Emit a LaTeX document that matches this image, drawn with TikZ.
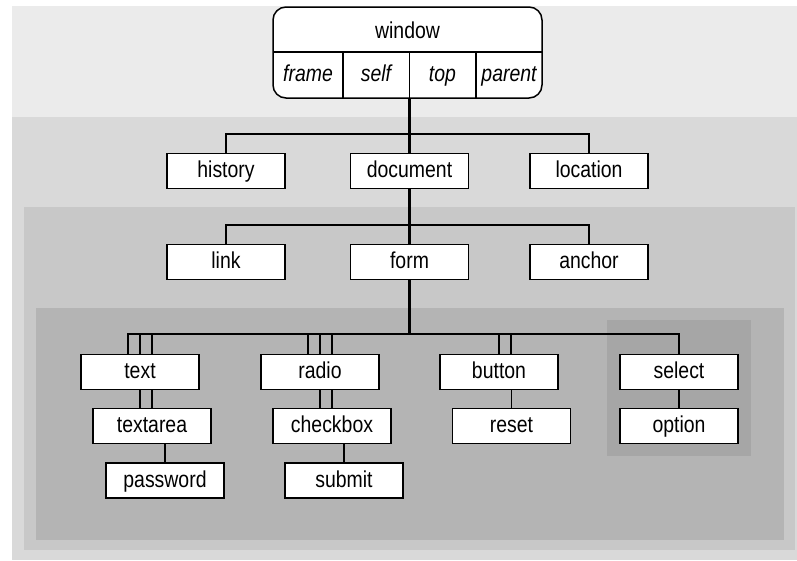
\documentclass[tikz,border=0pt]{standalone}
\usepackage{fontspec}
\setmainfont{Liberation Sans}[FakeStretch=0.845]
\begin{document}
\begin{tikzpicture}[x=1pt,y=-1pt,
  box/.style={draw=black, line width=1.5pt, fill=white, minimum width=118pt, minimum height=35pt, inner sep=0pt,
    font=\fontsize{23}{27}\selectfont, text height=16pt, text depth=3pt},
  lab/.style={inner sep=0pt, font=\fontsize{23}{27}\selectfont\itshape, text height=16pt, text depth=3pt},
  conn/.style={draw=black, line width=1.5pt},
  trunk/.style={draw=black, line width=2.6pt}]
\definecolor{bandA}{HTML}{EBEBEB}
\definecolor{bandB}{HTML}{D9D9D9}
\definecolor{bandC}{HTML}{C8C8C8}
\definecolor{bandD}{HTML}{B4B4B4}
\definecolor{bandE}{HTML}{A6A6A6}
\useasboundingbox (0,0) rectangle (797,560);
\fill[white] (0,0) rectangle (797,560);
\fill[bandA] (12,6) rectangle (797,117);
\fill[bandB] (12,117) rectangle (797,560);
\fill[bandC] (24,207) rectangle (795,550);
\fill[bandD] (36,308) rectangle (784,540);
\fill[bandE] (607,320) rectangle (751,456);

% window
\node[draw=black, line width=1.5pt, fill=white, rounded corners=13pt, minimum width=269pt, minimum height=91pt, inner sep=0pt] (win) at (407.5,52.5) {};
\coordinate (wl) at (273,52);
\coordinate (wr) at (542,52);
\draw[conn] (wl) -- (wr);
\coordinate (d1) at (343,52);
\coordinate (d2) at (409.5,52);
\coordinate (d3) at (476,52);
\draw[conn] (d1) -- (d1 |- win.south);
\draw[conn] (d2) -- (d2 |- win.south);
\draw[conn] (d3) -- (d3 |- win.south);
\node[lab, font=\fontsize{23}{27}\selectfont] (wt) at (407.5,31.5) {window};
\node[lab] (lframe) at (308,75) {frame};
\node[lab] (lself) at (376,75) {self};
\node[lab] (ltop) at (442.5,75) {top};
\node[lab] (lparent) at (509,75) {parent};

% level 1
\node[box] (history) at (226,171) {history};
\node[box] (document) at (409.5,171) {document};
\node[box] (location) at (589,171) {location};
% level 2
\node[box] (link) at (226,262) {link};
\node[box] (form) at (409.5,262) {form};
\node[box] (anchor) at (589,262) {anchor};
% level 3
\node[box] (text) at (140,372) {text};
\node[box] (textarea) at (152,426) {textarea};
\node[box] (password) at (165,480.5) {password};
\node[box] (radio) at (320,372) {radio};
\node[box] (checkbox) at (332,426) {checkbox};
\node[box] (submit) at (344,480.5) {submit};
\node[box] (button) at (499,372) {button};
\node[box] (reset) at (511.5,426) {reset};
\node[box] (select) at (679,372) {select};
\node[box] (option) at (679,426) {option};

% trunk
\coordinate (j3) at (409.5,335);
\draw[trunk] (document.north |- win.south) -- (document.north);
\draw[trunk] (document.south) -- (form.north);
\draw[trunk] (form.south) -- (j3);

% level 1 connectors
\draw[conn] (history.north) -- ++(0,-19) -| (location.north);
% level 2 connectors
\draw[conn] (link.north) -- ++(0,-19) -| (anchor.north);
% level 3 connectors
\draw[conn] ([xshift=-12pt]text.north) -- ++(0,-20) -| (select.north);
\draw[conn] (text.north) -- ++(0,-20);
\draw[conn] ([xshift=12pt]text.north) -- ++(0,-20);
\draw[conn] ([xshift=-12pt]radio.north) -- ++(0,-20);
\draw[conn] (radio.north) -- ++(0,-20);
\draw[conn] ([xshift=12pt]radio.north) -- ++(0,-20);
\draw[conn] (button.north) -- ++(0,-20);
\draw[conn] ([xshift=12pt]button.north) -- ++(0,-20);
% sub connectors
\draw[conn] (text.south) -- (text.south |- textarea.north);
\draw[conn] (textarea.north) -- (textarea.north |- text.south);
\draw[conn] (password.north) -- (password.north |- textarea.south);
\draw[conn] (radio.south) -- (radio.south |- checkbox.north);
\draw[conn] (checkbox.north) -- (checkbox.north |- radio.south);
\draw[conn] (submit.north) -- (submit.north |- checkbox.south);
\draw[conn] (reset.north) -- (reset.north |- button.south);
\draw[conn] (select.south) -- (option.north);
\end{tikzpicture}
\end{document}
